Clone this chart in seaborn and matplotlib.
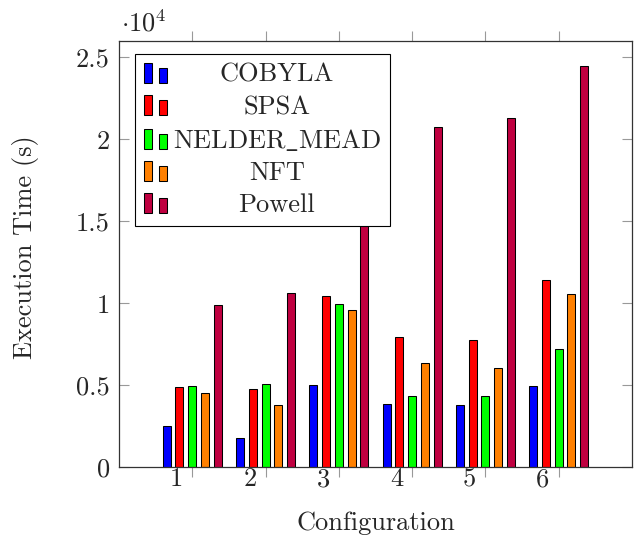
import matplotlib
matplotlib.use("Agg")
import matplotlib.pyplot as plt  # noqa: E402
import matplotlib.transforms as mtransforms  # noqa: E402
import pandas as pd  # noqa: E402
import seaborn as sns  # noqa: E402
from matplotlib.legend_handler import HandlerBase  # noqa: E402
from matplotlib.patches import Rectangle  # noqa: E402
from matplotlib.ticker import FuncFormatter  # noqa: E402

configs = ["1", "2", "3", "4", "5", "6"]
methods = ["COBYLA", "SPSA", "NELDER_MEAD", "NFT", "Powell"]
legend_labels = ["COBYLA", "SPSA", r"NELDER$\_$MEAD", "NFT", "Powell"]

# execution time in seconds
cobyla = [2520, 1780, 5020, 3870, 3770, 4930]
spsa = [4880, 4750, 10460, 7950, 7760, 11430]
nelder_mead = [4920, 5060, 9970, 4320, 4360, 7190]
nft = [4530, 3800, 9580, 6340, 6050, 10560]
powell = [9870, 10590, 19500, 20780, 21330, 24490]

colors = ["#0000ff", "#ff0000", "#00ff00", "#ff8000", "#bf0040"]

rows = []
for method, values in zip(methods, [cobyla, spsa, nelder_mead, nft, powell]):
    for config, value in zip(configs, values):
        rows.append({"Configuration": config, "Method": method, "Time": value})
df = pd.DataFrame(rows)

sns.set_style("ticks")
plt.rcParams["font.family"] = ["cmr10"]
plt.rcParams["mathtext.fontset"] = "cm"
plt.rcParams["axes.formatter.use_mathtext"] = True
plt.rcParams["font.size"] = 19
plt.rcParams["axes.unicode_minus"] = False


class PairedBars(HandlerBase):
    # pgfplots style ybar legend image: a tall bar and a shorter one
    def create_artists(self, legend, orig_handle, xdescent, ydescent,
                       width, height, fontsize, trans):
        fc = orig_handle.get_facecolor()
        w = width * 0.34
        tall = Rectangle((-xdescent, -ydescent), w, height, facecolor=fc,
                         edgecolor="black", linewidth=0.75, transform=trans)
        short = Rectangle((-xdescent + width * 0.66, -ydescent), w, height * 0.74,
                          facecolor=fc, edgecolor="black", linewidth=0.75,
                          transform=trans)
        return [tall, short]


fig = plt.figure(figsize=(6.36, 5.39), dpi=100)
ax = fig.add_axes([0.187, 0.1336, 0.8067, 0.7903])

sns.barplot(
    data=df, x="Configuration", y="Time", hue="Method",
    order=configs, hue_order=methods, palette=dict(zip(methods, colors)),
    saturation=1, width=0.87, gap=0.37, edgecolor="black", linewidth=0.75,
    errorbar=None, legend=False, ax=ax,
)

ax.set_xlim(-1, 6)
ax.set_ylim(0, 26000)
ax.set_yticks([0, 5000, 10000, 15000, 20000, 25000])
ax.yaxis.set_major_formatter(FuncFormatter(lambda v, p: f"{v / 1e4:g}"))

for side in ["top", "right", "left", "bottom"]:
    ax.spines[side].set_visible(True)
    ax.spines[side].set_color("#333333")
    ax.spines[side].set_linewidth(0.9)

ax.tick_params(axis="x", direction="out", length=7.2, width=0.8, color="#999999",
               top=True, bottom=True, pad=-7)
ax.tick_params(axis="y", direction="in", length=7.5, width=0.8, color="#999999",
               left=True, right=True, pad=6.5)

# pgfplots puts the group labels left of the tick marks
shift = mtransforms.ScaledTranslation(-15.7 / 100, 0, fig.dpi_scale_trans)
for label in ax.get_xticklabels():
    label.set_transform(label.get_transform() + shift)

ax.set_xlabel("Configuration")
ax.set_ylabel("Execution Time (s)")
ax.xaxis.set_label_coords(0.5, -0.105)
ax.yaxis.set_label_coords(-0.155, 0.515)

ax.text(0.005, 1.0235, r"$\cdot 10^4$", transform=ax.transAxes,
        ha="left", va="baseline")

handles = [Rectangle((0, 0), 1, 1, facecolor=c) for c in colors]
legend = ax.legend(
    handles, legend_labels, handler_map={Rectangle: PairedBars()},
    loc="upper left", bbox_to_anchor=(0.031, 0.9695), borderaxespad=0,
    frameon=True, fancybox=False, edgecolor="black", framealpha=1,
    handlelength=0.9, handleheight=0.8, handletextpad=0.2,
    labelspacing=0.3, borderpad=0.33,
)
legend.get_frame().set_linewidth(0.8)

# center the legend texts like pgfplots does
fig.canvas.draw()
renderer = fig.canvas.get_renderer()
widths = [t.get_window_extent(renderer).width for t in legend.get_texts()]
for t, w in zip(legend.get_texts(), widths):
    t.set_x((max(widths) - w) / 2)

fig.savefig("out.png", dpi=100)
